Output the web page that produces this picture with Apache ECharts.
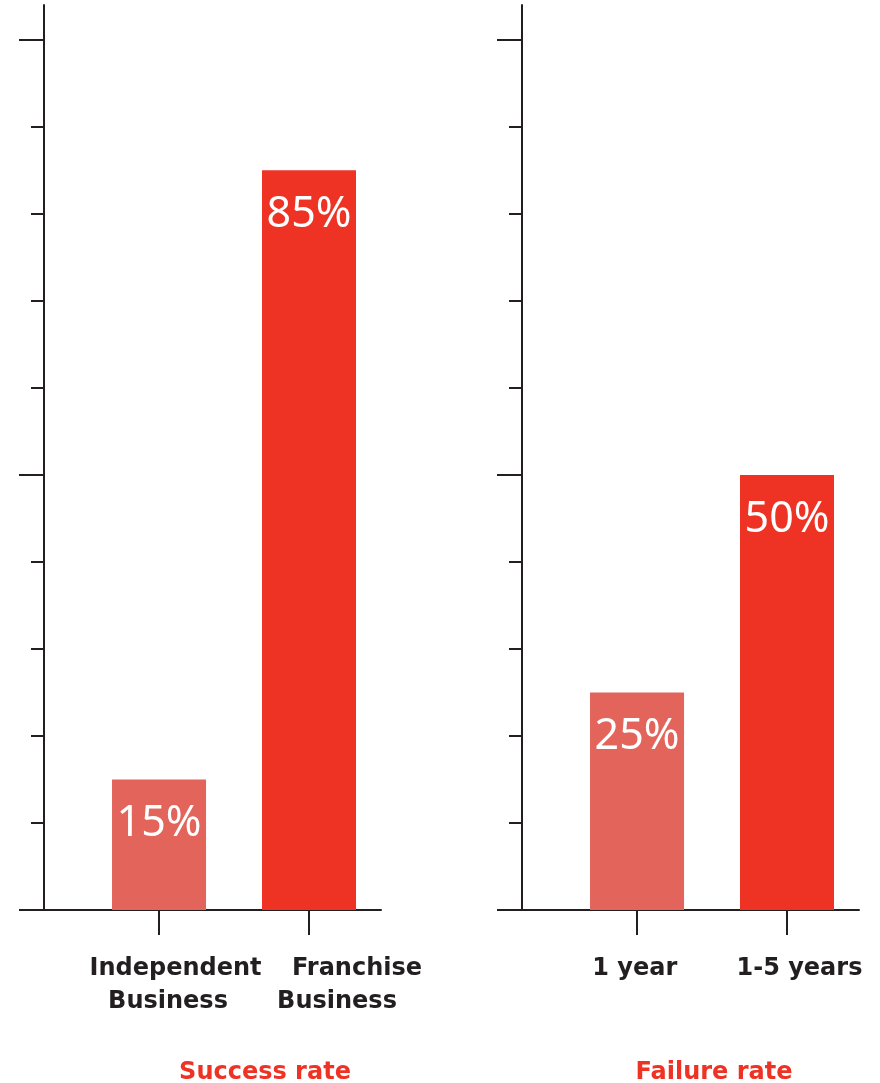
<!DOCTYPE html>
<html>
<head>
<meta charset="utf-8">
<script src="https://cdn.jsdelivr.net/npm/echarts@6/dist/echarts.min.js"></script>
<style>
    html, body { margin: 0; padding: 0; background: #fff; }
    #chart { width: 880px; height: 1083px; }
</style>
</head>
<body>
<div id="chart"></div>
<script>
    // data
    const successCategories = ['Independent\nBusiness', 'Franchise\nBusiness'];
    const successValues = [15, 85];
    const failureCategories = ['1 year', '1-5 years'];
    const failureValues = [25, 50];
    const panelTitles = ['Success rate', 'Failure rate'];
    const majorTicks = [0, 50, 100];
    const minorTicks = [0, 10, 20, 30, 40, 50, 60, 70, 80, 90, 100];

    // styles
    const barColors = ['#e2645a', '#ee3224'];
    const axisColor = '#231f20';
    const labelFont = 'DejaVu Sans';
    // the labels in the original sit a little right of their ticks
    const successLabelShift = [0.11, 0.32];
    const failureLabelShift = [-0.015, 0.083];
    // [left, right] padding per label line
    const successPads = [[[0, 0], [0, 15]], [[0, 0], [0, 40]]];
    const failurePads = [[[0, 0]], [[0, 0]]];

    let chart = echarts.init(document.getElementById('chart'));

    function richFor(cats, pads) {
        let rich = {};
        cats.forEach((c, i) => {
            c.split('\n').forEach((s, j) => {
                rich['p' + i + '_' + j] = {
                    fontFamily: labelFont, fontWeight: 'bold', fontSize: 24,
                    color: axisColor, lineHeight: 33,
                    padding: [0, pads[i][j][1], 0, pads[i][j][0]]
                };
            });
        });
        return rich;
    }

    function xAxisFor(gridIndex, cats, shift, pads) {
        let labelAt = cats.map((c, i) => i + shift[i]);
        return {
            type: 'value', gridIndex: gridIndex,
            min: -0.767, max: 1.48,
            splitLine: {show: false},
            axisLine: {show: true, onZero: false, lineStyle: {color: axisColor, width: 2}},
            axisTick: {show: true, customValues: cats.map((c, i) => i), length: 25,
                lineStyle: {color: axisColor, width: 2}},
            axisLabel: {
                show: true, customValues: labelAt, margin: 42,
                hideOverlap: false, showMinLabel: true, showMaxLabel: true,
                formatter: v => {
                    let i = labelAt.indexOf(v);
                    if (i < 0) i = Math.round(v);
                    return cats[i].split('\n').map((s, j) => '{p' + i + '_' + j + '|' + s + '}').join('\n');
                },
                rich: richFor(cats, pads)
            }
        };
    }

    function yAxesFor(gridIndex) {
        return [
            { // short ticks every 10
                type: 'value', gridIndex: gridIndex, min: 0, max: 104, position: 'left',
                splitLine: {show: false}, axisLabel: {show: false},
                axisLine: {show: true, onZero: false, lineStyle: {color: axisColor, width: 2}},
                axisTick: {show: true, customValues: minorTicks, length: 13,
                    lineStyle: {color: axisColor, width: 2}}
            },
            { // long ticks every 50
                type: 'value', gridIndex: gridIndex, min: 0, max: 104, position: 'left',
                splitLine: {show: false}, axisLabel: {show: false},
                axisLine: {show: false, onZero: false},
                axisTick: {show: true, customValues: majorTicks, length: 25,
                    lineStyle: {color: axisColor, width: 2}}
            }
        ];
    }

    function barSeries(index, values) {
        return {
            type: 'bar', xAxisIndex: index, yAxisIndex: index * 2,
            barWidth: 94,
            data: values.map((v, i) => ({value: [i, v], itemStyle: {color: barColors[i]}})),
            label: {
                show: true, position: 'insideTop', distance: 23,
                color: '#fff', fontFamily: 'Noto Sans', fontSize: 43,
                formatter: p => p.value[1] + '%'
            }
        };
    }

    chart.setOption({
        animation: false,
        title: panelTitles.map((t, i) => ({
            text: t, left: i === 0 ? 260 : 709, top: 1056, textAlign: 'center',
            textStyle: {color: '#ee3224', fontFamily: labelFont, fontWeight: 'bold', fontSize: 24}
        })),
        grid: [
            {left: 44, top: 5, width: 337, height: 905},
            {left: 522, top: 5, width: 337, height: 905}
        ],
        xAxis: [
            xAxisFor(0, successCategories, successLabelShift, successPads),
            xAxisFor(1, failureCategories, failureLabelShift, failurePads)
        ],
        yAxis: yAxesFor(0).concat(yAxesFor(1)),
        series: [
            barSeries(0, successValues),
            barSeries(1, failureValues)
        ]
    });
</script>
</body>
</html>
